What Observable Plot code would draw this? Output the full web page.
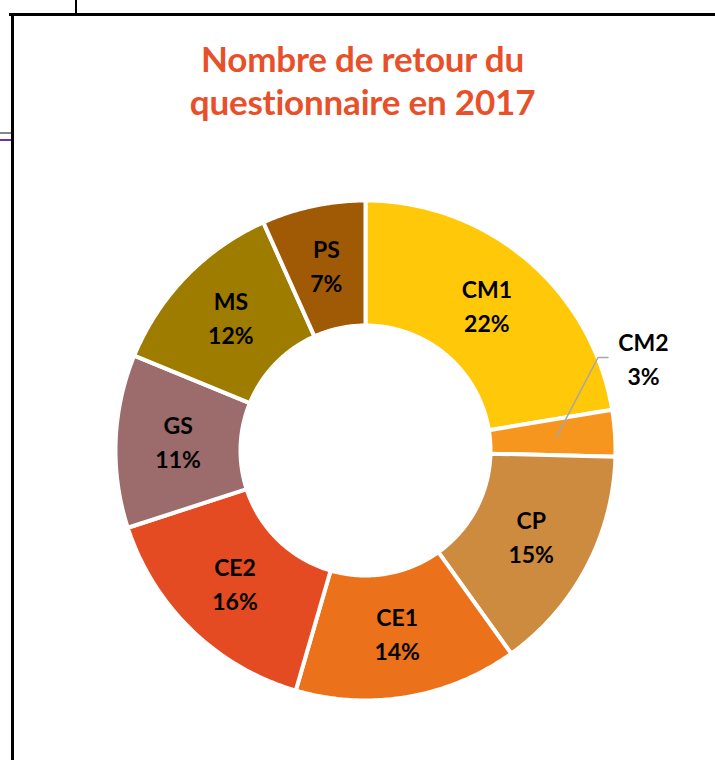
<!DOCTYPE html>
<html>
<head>
<meta charset="utf-8">
<script src="https://cdn.jsdelivr.net/npm/d3@7"></script>
<script src="https://cdn.jsdelivr.net/npm/@observablehq/plot@0.6"></script>
<style>
  html, body { margin: 0; padding: 0; background: #fff; }
  body { width: 715px; height: 760px; position: relative; overflow: hidden; font-family: Lato, "Open Sans", sans-serif; }
  .frame-v { position: absolute; left: 11px; top: 13px; width: 3px; height: 760px; background: #000; }
  .frame-h { position: absolute; left: 9px; top: 13px; width: 706px; height: 3px; background: #000; }
  .frame-top { position: absolute; left: 75px; top: 0; width: 2px; height: 14px; background: #000; }
  .frame-grey { position: absolute; left: 0; top: 132px; width: 11px; height: 2px; background: #888; }
  .frame-purple { position: absolute; left: 0; top: 139px; width: 11px; height: 2px; background: #7030a0; }
  #title { position: absolute; left: 0; top: 37px; width: 725px; text-align: center; color: #e8502a; font-weight: bold; font-size: 35px; line-height: 43px; letter-spacing: -0.2px; }
  #chart { position: absolute; left: 0; top: 130px; }
</style>
</head>
<body>
<div class="frame-top"></div>
<div class="frame-h"></div>
<div class="frame-v"></div>
<div class="frame-grey"></div>
<div class="frame-purple"></div>
<div id="title">Nombre de retour du<br>questionnaire en 2017</div>
<div id="chart"></div>
<script>
// Data (share of questionnaire returns, %)
const categories = ["CM1", "CM2", "CP", "CE1", "CE2", "GS", "MS", "PS"];
const values = [22.4, 3.0, 14.7, 14.4, 15.5, 11.2, 12.1, 6.7];
const percentLabels = ["22%", "3%", "15%", "14%", "16%", "11%", "12%", "7%"];
const colors = ["#ffc90a", "#f7961f", "#cd8b40", "#eb721a", "#e54b23", "#9c6b6b", "#9e7c00", "#a05a06"];

const inner = 0.5, outer = 1.0;
const pie = d3.pie().sort(null).value(d => d)(values);

// Build slice polygons in unit (polar->cartesian) coordinates
const slicePts = [];
pie.forEach((p, i) => {
  const n = Math.max(8, Math.ceil((p.endAngle - p.startAngle) / 0.01));
  const pts = [];
  for (let k = 0; k <= n; k++) {
    const a = p.startAngle + (p.endAngle - p.startAngle) * k / n;
    pts.push([outer * Math.sin(a), outer * Math.cos(a)]);
  }
  for (let k = n; k >= 0; k--) {
    const a = p.startAngle + (p.endAngle - p.startAngle) * k / n;
    pts.push([inner * Math.sin(a), inner * Math.cos(a)]);
  }
  pts.forEach(([x, y]) => slicePts.push({cat: categories[i], x, y}));
});

// Labels at mid-ring centroid
const labelR = (inner + outer) / 2;
const labels = pie.map((p, i) => {
  const a = (p.startAngle + p.endAngle) / 2;
  return {cat: categories[i], pct: percentLabels[i], a, x: labelR * Math.sin(a), y: labelR * Math.cos(a)};
});
const outsideCat = "CM2";
const lab = labels.find(d => d.cat === outsideCat);
const outLabel = {x: 1.112, y: 0.36};
const leader = [
  {x: 0.765 * Math.sin(lab.a), y: 0.765 * Math.cos(lab.a)},
  {x: 0.93, y: 0.372},
  {x: 0.97, y: 0.372}
];
const textRows = [];
labels.forEach(d => {
  const pos = d.cat === outsideCat ? outLabel : d;
  textRows.push({x: pos.x, y: pos.y, t: d.cat, line: 0});
  textRows.push({x: pos.x, y: pos.y, t: d.pct, line: 1});
});

const R = 250, W = 715, H = 630, cx = 365, cy = 320;
const chart = Plot.plot({
  width: W,
  height: H,
  margin: 0,
  x: {domain: [-cx / R, (W - cx) / R], axis: null},
  y: {domain: [-(H - cy) / R, cy / R], axis: null},
  color: {domain: categories, range: colors},
  marks: [
    Plot.line(slicePts, {x: "x", y: "y", z: "cat", fill: "cat", stroke: "white", strokeWidth: 4, curve: "linear-closed"}),
    Plot.line(leader, {x: "x", y: "y", stroke: "#a6a6a6", strokeWidth: 1.5}),
    Plot.text(textRows.filter(d => d.line === 0), {x: "x", y: "y", text: "t", dy: -17, fontSize: 23, fontWeight: "bold", fill: "#000"}),
    Plot.text(textRows.filter(d => d.line === 1), {x: "x", y: "y", text: "t", dy: 17, fontSize: 23, fontWeight: "bold", fill: "#000"})
  ],
  style: {fontFamily: "Lato, 'Open Sans', sans-serif", background: "transparent"}
});
document.getElementById("chart").appendChild(chart);
</script>
</body>
</html>
